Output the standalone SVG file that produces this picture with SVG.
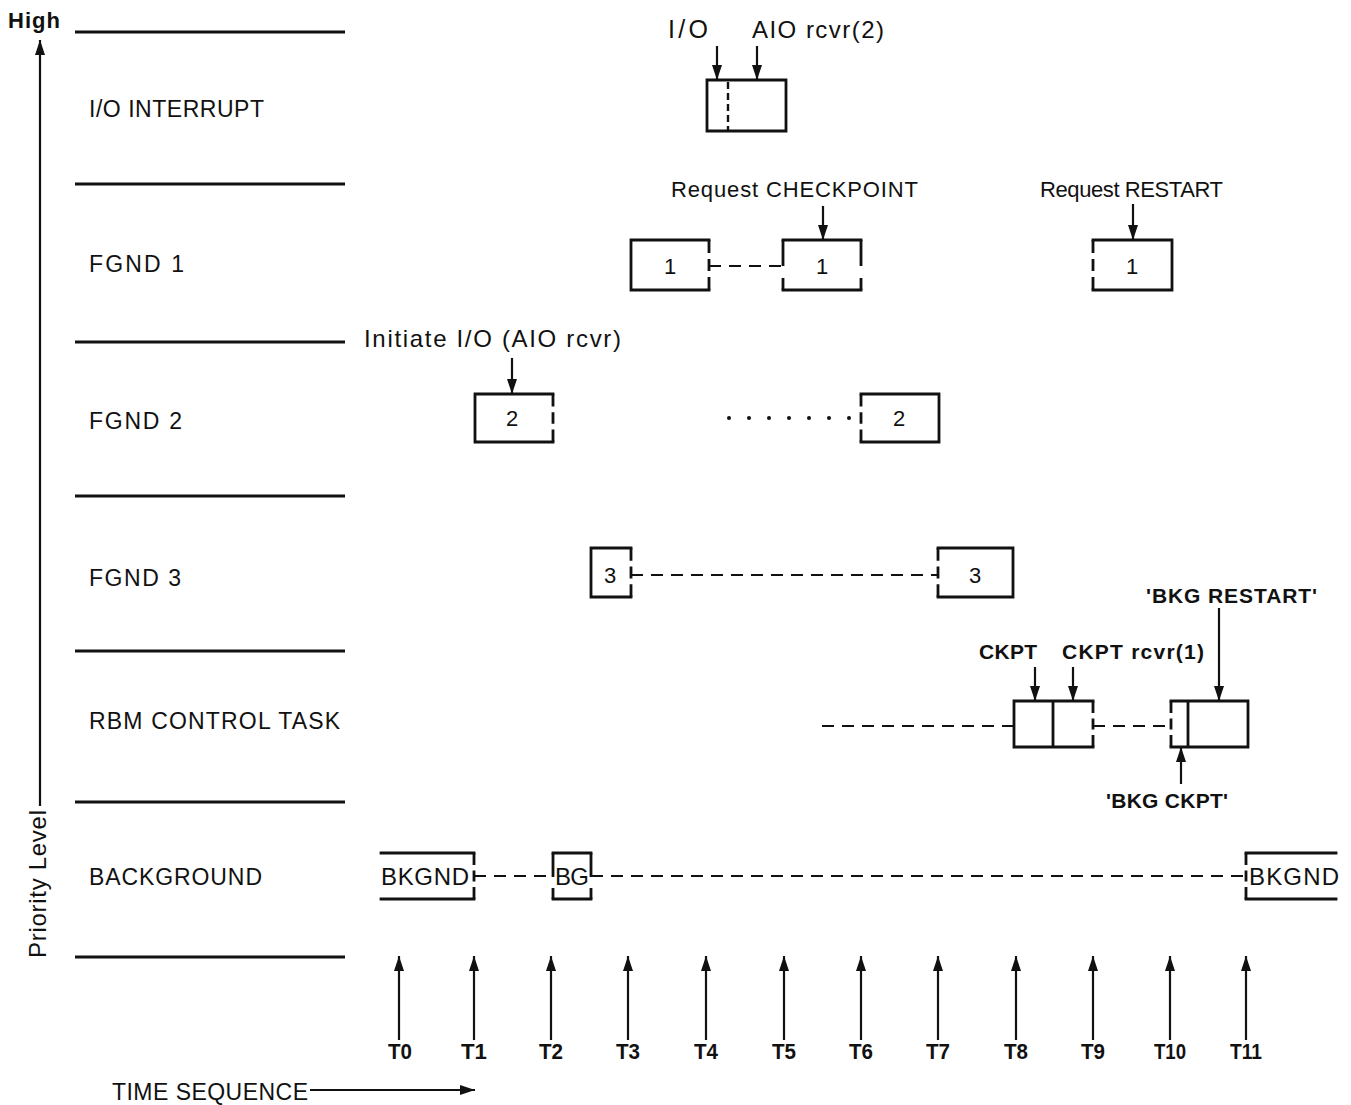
<svg xmlns="http://www.w3.org/2000/svg" width="1351" height="1105" viewBox="0 0 1351 1105">
<style>
  text { font-family: "Liberation Sans", Arial, sans-serif; fill: #111; }
  .lbl { font-size: 23px; }
  .ann { font-size: 22px; }
  .bann { font-size: 21px; font-weight: bold; }
  .num { font-size: 22px; text-anchor: middle; }
  .bk { font-size: 24px; }
  .tl { font-size: 22px; font-weight: bold; }
  .lvl { stroke: #111; stroke-width: 3; fill: none; }
  .edge { stroke: #111; stroke-width: 2.8; fill: none; stroke-linecap: square; }
  .dedge { stroke: #111; stroke-width: 2.8; fill: none; stroke-dasharray: 13 6 12 6 13; }
  .conn { stroke: #111; stroke-width: 2.2; fill: none; stroke-dasharray: 12 8; }
  .arr { stroke: #111; stroke-width: 2.2; fill: none; marker-end: url(#ah); }
</style>
<defs>
  <marker id="ah" markerUnits="userSpaceOnUse" markerWidth="16" markerHeight="10" refX="15" refY="5" orient="auto">
    <path d="M0,0 L15,5 L0,10 z" fill="#111"/>
  </marker>
</defs>
<rect width="1351" height="1105" fill="#fff"/>

<g id="axes">
  <text x="8" y="28" style="font-size:22px;font-weight:bold" textLength="52">High</text>
  <path class="arr" d="M40,806 L40,40"/>
  <text transform="translate(46,958) rotate(-90)" style="font-size:24px" textLength="148">Priority Level</text>
  <path class="lvl" d="M75,32 H345 M75,184 H345 M75,342 H345 M75,496 H345 M75,651 H345 M75,802 H345 M75,957 H345"/>
  <text x="112" y="1100" class="lbl" textLength="196">TIME SEQUENCE</text>
  <path class="arr" d="M310,1090 L475,1090"/>
</g>

<g id="row-labels">
  <text x="89" y="117" class="lbl" textLength="175">I/O INTERRUPT</text>
  <text x="89" y="272" class="lbl" textLength="95">FGND 1</text>
  <text x="89" y="429" class="lbl" textLength="93">FGND 2</text>
  <text x="89" y="586" class="lbl" textLength="92">FGND 3</text>
  <text x="89" y="729" class="lbl" textLength="251">RBM CONTROL TASK</text>
  <text x="89" y="885" class="lbl" textLength="173">BACKGROUND</text>
</g>

<g id="node-io">
  <path class="edge" d="M707,80 H786 V131 H707 Z"/>
  <path d="M728,82 V130" stroke="#111" stroke-width="2.4" stroke-dasharray="7 4"/>
</g>

<g id="node-f1a">
  <path class="edge" d="M709,240 H631 V290 H709"/>
  <path class="dedge" d="M709,240 V290" pathLength="50"/>
  <text x="670" y="274" class="num">1</text>
</g>
<g id="node-f1b">
  <path class="edge" d="M783,240 H861 M783,290 H861"/>
  <path class="dedge" d="M783,240 V290 M861,240 V290" pathLength="50"/>
  <text x="822" y="274" class="num">1</text>
</g>
<g id="node-f1c">
  <path class="edge" d="M1093,240 H1172 V290 H1093"/>
  <path class="dedge" d="M1093,240 V290" pathLength="50"/>
  <text x="1132" y="274" class="num">1</text>
</g>

<g id="node-f2a">
  <path class="edge" d="M553,394 H475 V442 H553"/>
  <path class="dedge" d="M553,394 V442" pathLength="50"/>
  <text x="512" y="426" class="num">2</text>
</g>
<g id="node-f2b">
  <path class="edge" d="M861,394 H939 V442 H861"/>
  <path class="dedge" d="M861,394 V442" pathLength="50"/>
  <text x="899" y="426" class="num">2</text>
</g>

<g id="node-f3a">
  <path class="edge" d="M631,548 H591 V597 H631"/>
  <path class="dedge" d="M631,548 V597" pathLength="50"/>
  <text x="610" y="583" class="num">3</text>
</g>
<g id="node-f3b">
  <path class="edge" d="M938,548 H1013 V597 H938"/>
  <path class="dedge" d="M938,548 V597" pathLength="50"/>
  <text x="975" y="583" class="num">3</text>
</g>

<g id="node-rbm1">
  <path class="edge" d="M1093,701 H1014 V747 H1093 M1053,701 V747"/>
  <path class="dedge" d="M1093,701 V747" pathLength="50"/>
</g>
<g id="node-rbm2">
  <path class="edge" d="M1171,701 H1248 V747 H1171 M1188,701 V747"/>
  <path class="dedge" d="M1171,701 V747" pathLength="50"/>
</g>

<g id="node-bg1">
  <path class="edge" d="M381,853 H474 M381,899 H474"/>
  <path class="dedge" d="M474,853 V899" pathLength="50"/>
  <text x="381" y="885" class="bk" textLength="88">BKGND</text>
</g>
<g id="node-bg2">
  <path class="edge" d="M553,853 H591 M553,899 H591"/>
  <path class="dedge" d="M553,853 V899 M591,853 V899" pathLength="50"/>
  <text x="555" y="885" class="bk" textLength="34">BG</text>
</g>
<g id="node-bg3">
  <path class="edge" d="M1246,853 H1336 M1246,899 H1336"/>
  <path class="dedge" d="M1246,853 V899" pathLength="50"/>
  <text x="1249" y="885" class="bk" textLength="90">BKGND</text>
</g>

<g id="connectors">
  <path class="conn" d="M709,266 H783"/>
  <path class="conn" d="M631,575 H938"/>
  <path class="conn" d="M822,726 H1014"/>
  <path class="conn" d="M1093,726 H1171"/>
  <path class="conn" d="M474,876 H553"/>
  <path class="conn" d="M591,876 H1246"/>
  <g fill="#111">
    <circle cx="729" cy="418" r="2"/><circle cx="749" cy="418" r="2"/><circle cx="769" cy="418" r="2"/>
    <circle cx="789" cy="418" r="2"/><circle cx="809" cy="418" r="2"/><circle cx="829" cy="418" r="2"/>
    <circle cx="849" cy="418" r="2"/>
  </g>
  <path class="arr" d="M717,46 V80"/>
  <path class="arr" d="M757,46 V80"/>
  <path class="arr" d="M823,206 V240"/>
  <path class="arr" d="M1133,204 V240"/>
  <path class="arr" d="M512,358 V394"/>
  <path class="arr" d="M1035,667 V701"/>
  <path class="arr" d="M1073,667 V701"/>
  <path class="arr" d="M1219,608 V701"/>
  <path class="arr" d="M1181,784 V747"/>
</g>

<g id="annotations">
  <text x="668" y="38" class="ann" style="font-size:25px" textLength="40">I/O</text>
  <text x="752" y="38" class="ann" style="font-size:24px" textLength="132">AIO rcvr(2)</text>
  <text x="671" y="197" class="ann" textLength="247">Request CHECKPOINT</text>
  <text x="1040" y="197" class="ann" textLength="183">Request RESTART</text>
  <text x="364" y="347" class="ann" style="font-size:24px" textLength="257">Initiate I/O (AIO rcvr)</text>
  <text x="979" y="659" class="bann" textLength="58">CKPT</text>
  <text x="1062" y="659" class="bann" textLength="142">CKPT rcvr(1)</text>
  <text x="1146" y="603" class="bann" textLength="171">'BKG RESTART'</text>
  <text x="1106" y="808" class="bann" textLength="122">'BKG CKPT'</text>
</g>

<g id="time-marks">
  <path class="arr" d="M399,1040 V956"/>
  <path class="arr" d="M474,1040 V956"/>
  <path class="arr" d="M551,1040 V956"/>
  <path class="arr" d="M628,1040 V956"/>
  <path class="arr" d="M706,1040 V956"/>
  <path class="arr" d="M784,1040 V956"/>
  <path class="arr" d="M861,1040 V956"/>
  <path class="arr" d="M938,1040 V956"/>
  <path class="arr" d="M1016,1040 V956"/>
  <path class="arr" d="M1093,1040 V956"/>
  <path class="arr" d="M1170,1040 V956"/>
  <path class="arr" d="M1246,1040 V956"/>
  <text x="388" y="1059" class="tl" textLength="24" lengthAdjust="spacingAndGlyphs">T0</text>
  <text x="461" y="1059" class="tl" textLength="26" lengthAdjust="spacingAndGlyphs">T1</text>
  <text x="539" y="1059" class="tl" textLength="24" lengthAdjust="spacingAndGlyphs">T2</text>
  <text x="616" y="1059" class="tl" textLength="24" lengthAdjust="spacingAndGlyphs">T3</text>
  <text x="694" y="1059" class="tl" textLength="24" lengthAdjust="spacingAndGlyphs">T4</text>
  <text x="772" y="1059" class="tl" textLength="24" lengthAdjust="spacingAndGlyphs">T5</text>
  <text x="849" y="1059" class="tl" textLength="24" lengthAdjust="spacingAndGlyphs">T6</text>
  <text x="926" y="1059" class="tl" textLength="24" lengthAdjust="spacingAndGlyphs">T7</text>
  <text x="1004" y="1059" class="tl" textLength="24" lengthAdjust="spacingAndGlyphs">T8</text>
  <text x="1081" y="1059" class="tl" textLength="24" lengthAdjust="spacingAndGlyphs">T9</text>
  <text x="1154" y="1059" class="tl" textLength="32" lengthAdjust="spacingAndGlyphs">T10</text>
  <text x="1230" y="1059" class="tl" textLength="32" lengthAdjust="spacingAndGlyphs">T11</text>
</g>
</svg>
